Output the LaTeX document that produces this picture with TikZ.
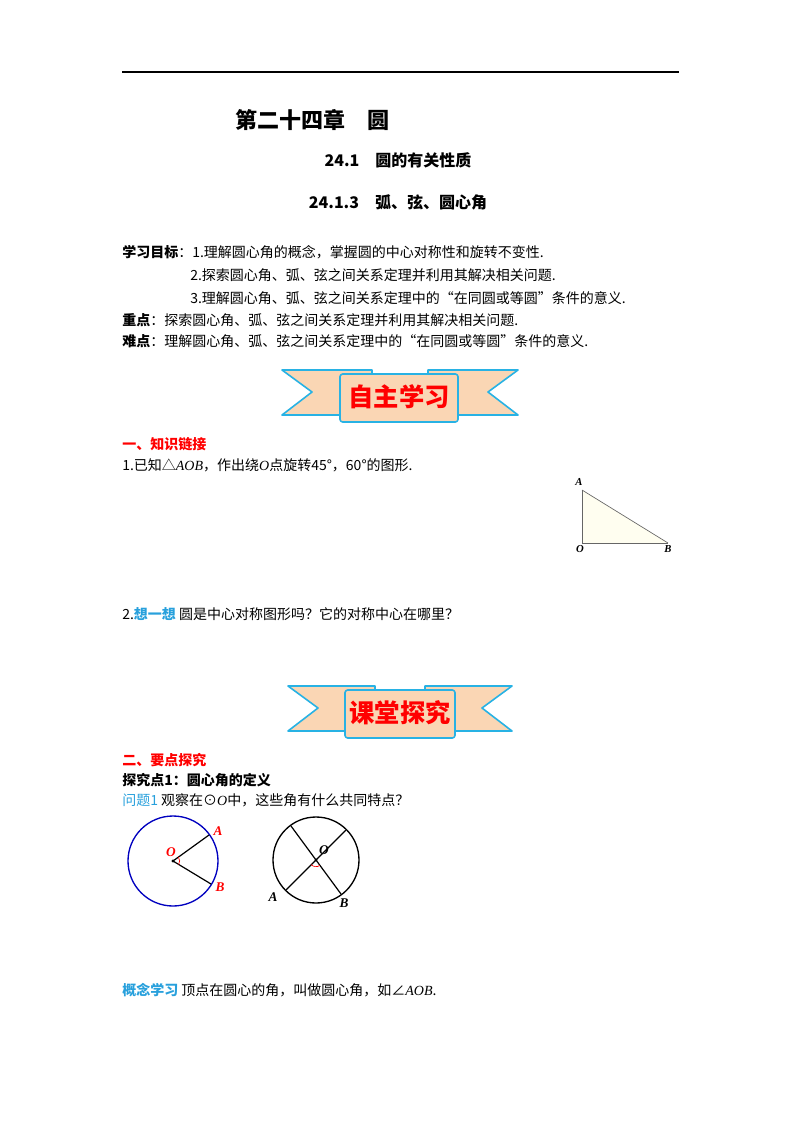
\documentclass[tikz,border=0pt]{standalone}
\usepackage{fontspec}
\usetikzlibrary{calc}
\setmainfont{Liberation Serif}
\newfontfamily\cjk{Noto Sans CJK SC}
\definecolor{peach}{RGB}{250,214,180}
\definecolor{rbl}{RGB}{40,178,228}
\definecolor{qblue}{RGB}{40,160,220}
\begin{document}
\begin{tikzpicture}[x=0.75pt,y=-0.75pt,
  txt/.style={anchor=west,inner sep=0,font=\cjk\fontsize{10.5}{12}\selectfont},
  rib/.style={fill=peach,draw=rbl,line width=1.2pt,line join=round},
  lab/.style={inner sep=0,font=\bfseries\itshape\fontsize{8}{9}\selectfont}]
\useasboundingbox (0,0) rectangle (800,1132);
\draw[line width=0.8pt] (122,72) -- (679,72);
\node[txt,font=\cjk\bfseries\fontsize{16.5}{18}\selectfont] (t1) at (235,120) {第二十四章\quad 圆};
\node[txt,anchor=center,font=\cjk\bfseries\fontsize{12}{14}\selectfont] (t2) at (398,160) {24.1\quad 圆的有关性质};
\node[txt,anchor=center,font=\cjk\bfseries\fontsize{12}{14}\selectfont] (t3) at (398,202) {24.1.3\quad 弧、弦、圆心角};
\node[txt] (l1) at (122,252) {\textbf{学习目标}：1.理解圆心角的概念，掌握圆的中心对称性和旋转不变性.};
\node[txt] (l2) at (190,275) {2.探索圆心角、弧、弦之间关系定理并利用其解决相关问题.};
\node[txt] (l3) at (190,298) {3.理解圆心角、弧、弦之间关系定理中的“在同圆或等圆”条件的意义.};
\node[txt] (l4) at (122,320) {\textbf{重点}：探索圆心角、弧、弦之间关系定理并利用其解决相关问题.};
\node[txt] (l5) at (122,341) {\textbf{难点}：理解圆心角、弧、弦之间关系定理中的“在同圆或等圆”条件的意义.};
% banner 1
\draw[rib] (282,370) -- (372,370) -- (372,415) -- (282,415) -- (312,392) -- cycle;
\draw[rib] (518,370) -- (428,370) -- (428,415) -- (518,415) -- (488,392) -- cycle;
\draw[rib,rounded corners=2pt] (340,374) rectangle (458,422);
\node[font=\cjk\bfseries\fontsize{19}{20}\selectfont,text=red] (b1) at (399,397) {自主学习};
\node[txt,text=red,font=\cjk\bfseries\fontsize{10.5}{12}\selectfont] (h1) at (122,444) {一、知识链接};
\node[txt] (p1) at (122,465) {1.已知△{\rmfamily\itshape AOB}，作出绕{\rmfamily\itshape O}点旋转45°，60°的图形.};
% triangle
\coordinate (A) at (582,490); \coordinate (O) at (582,543); \coordinate (B) at (668,543);
\fill[yellow!6] (A) -- (O) -- (B) -- cycle;
\draw[gray!80!black,line width=0.6pt] (A) -- (O) -- (B);
\draw[gray!80!black,line width=0.5pt] (A) -- (B);
\node[lab] (la) at (579,482) {A};
\node[lab] (lo) at (580,549) {O};
\node[lab] (lb) at (668,549) {B};
\node[txt] (p2) at (122,614) {2.{\color{qblue}\textbf{想一想}}\ 圆是中心对称图形吗？它的对称中心在哪里？};
% banner 2
\draw[rib] (288,686) -- (375,686) -- (375,731) -- (288,731) -- (318,708) -- cycle;
\draw[rib] (512,686) -- (425,686) -- (425,731) -- (512,731) -- (482,708) -- cycle;
\draw[rib,rounded corners=2pt] (345,690) rectangle (455,738);
\node[font=\cjk\bfseries\fontsize{19}{20}\selectfont,text=red] (b2) at (400,713) {课堂探究};
\node[txt,text=red,font=\cjk\bfseries\fontsize{10.5}{12}\selectfont] (h2) at (122,760) {二、要点探究};
\node[txt,font=\cjk\bfseries\fontsize{10.5}{12}\selectfont] (h3) at (122,780) {探究点1：圆心角的定义};
\node[txt] (q1) at (122,800) {{\color{qblue}问题1}\ 观察在⊙{\rmfamily\itshape O}中，这些角有什么共同特点？};
% circle 1
\coordinate (C1) at (173,861);
\draw[blue!75!black,line width=1pt] (C1) circle[radius=45*0.75pt];
\coordinate (A1) at (209,835); \coordinate (B1) at (211,884);
\draw[line width=0.9pt] (A1) -- (C1) -- (B1);
\fill (C1) circle[radius=1.3pt];
\draw[red,line width=0.5pt] ($(C1)!5pt!(A1)$) arc[start angle=36,end angle=-32,radius=5pt];
\node[lab,text=red,font=\bfseries\itshape\fontsize{10}{11}\selectfont] (lo1) at (171,852) {O};
\node[lab,text=red,font=\bfseries\itshape\fontsize{10}{11}\selectfont] (la1) at (218,831) {A};
\node[lab,text=red,font=\bfseries\itshape\fontsize{10}{11}\selectfont] (lb1) at (220,887) {B};
% circle 2
\coordinate (C2) at (316,860);
\draw[line width=1pt] (C2) circle[radius=43*0.75pt];
\coordinate (P1) at (291,826); \coordinate (P2) at (341,894);
\coordinate (Q1) at (286,890); \coordinate (Q2) at (346,830);
\draw[line width=0.9pt] (P1) -- (P2); \draw[line width=0.9pt] (Q1) -- (Q2);
\fill (C2) circle[radius=1.3pt];
\draw[red,line width=0.5pt] (C2) ++(225:5pt) arc[start angle=225,end angle=306,radius=5pt];
\node[lab,font=\bfseries\itshape\fontsize{10}{11}\selectfont] (lo2) at (324,850) {O};
\node[lab,font=\bfseries\itshape\fontsize{10}{11}\selectfont] (la2) at (273,897) {A};
\node[lab,font=\bfseries\itshape\fontsize{10}{11}\selectfont] (lb2) at (344,903) {B};
\node[txt] (c1) at (122,990) {{\color{qblue}\textbf{概念学习}}\ 顶点在圆心的角，叫做圆心角，如∠{\rmfamily\itshape AOB}.};
\end{tikzpicture}
\end{document}
